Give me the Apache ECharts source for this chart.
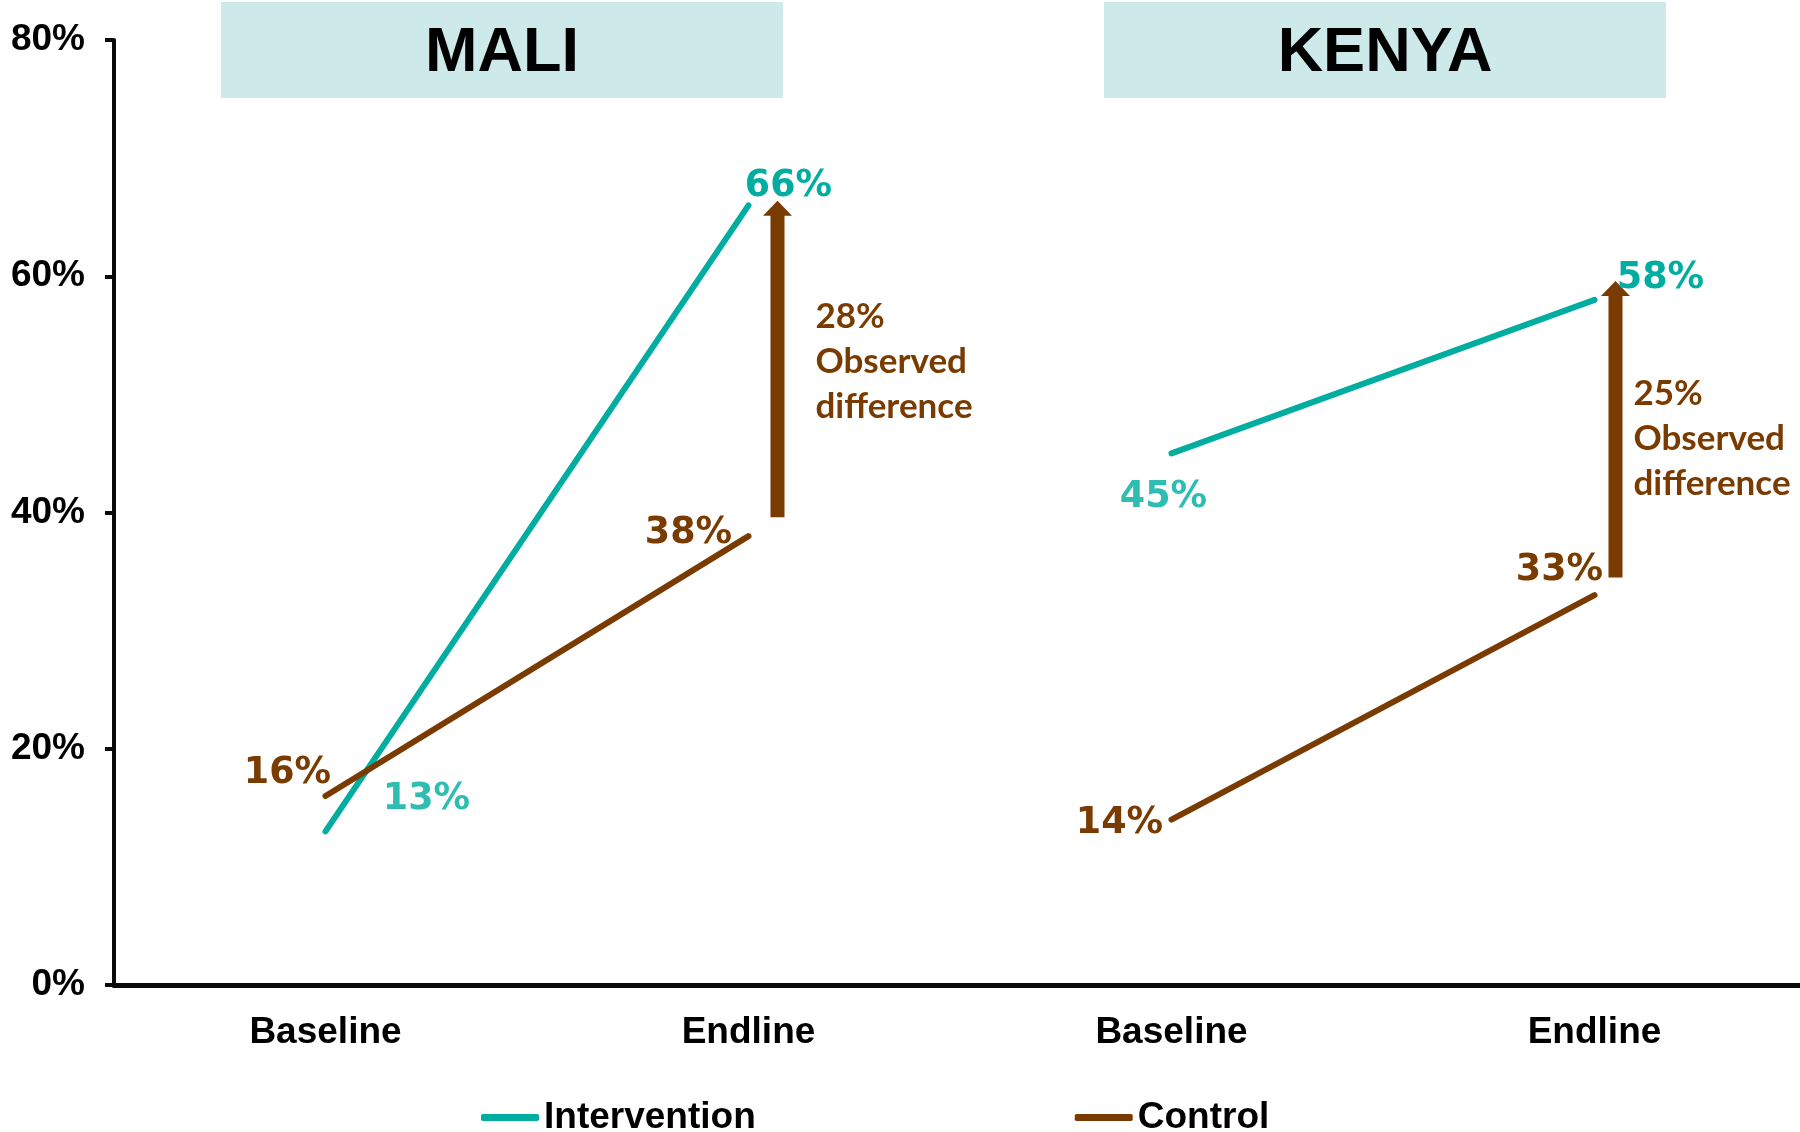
<!DOCTYPE html>
<html><head><meta charset="utf-8">
<script src="https://cdn.jsdelivr.net/npm/echarts@6/dist/echarts.min.js"></script>
<style>html,body{margin:0;padding:0;background:#fff}#c{width:1800px;height:1132px}</style>
</head><body><div id="c"></div>
<script>
// ---- data ----
const categories = ['Baseline', 'Endline', 'Baseline', 'Endline'];
const countries = ['MALI', 'KENYA'];
const maliIntervention = [13, 66];
const maliControl = [16, 38];
const kenyaIntervention = [45, 58];
const kenyaControl = [14, 33];
const yTickMin = 0, yTickMax = 80, yTickStep = 20;
const arrowCat = [1, 3];
const arrowFrom = [39.6, 34.5];
const arrowTo = [66.4, 59.6];
const diffLabels = ['28%\nObserved\ndifference', '25%\nObserved\ndifference'];

// ---- styling ----
const TEAL = '#00ADA0', TEAL_LIGHT = '#2FBDB2', BROWN = '#7A3B00';
const AX = 'Liberation Sans';
const labelBase = {
  show: true, position: 'inside', fontFamily: 'DejaVu Sans', fontWeight: 'bold', fontSize: 36.5,
  formatter: p => p.value[1] + '%'
};
function pts(vals, startCat, offsets, colors) {
  return vals.map((v, i) => ({
    value: [startCat + i, v],
    label: { offset: offsets[i], color: colors[i] }
  }));
}
function lineSeries(name, color, data) {
  return {
    type: 'line', name, data, symbol: 'circle', symbolSize: 3,
    itemStyle: { color }, lineStyle: { color, width: 6, cap: 'round' },
    label: labelBase, emphasis: { disabled: true }, animation: false
  };
}

const chart = echarts.init(document.getElementById('c'));
chart.setOption({
  animation: false,
  grid: { left: 114, width: 1692, top: 40, bottom: 147, outerBoundsMode: 'none', containLabel: false },
  xAxis: {
    type: 'category', data: categories, boundaryGap: true,
    axisLine: { lineStyle: { color: '#0a0a0a', width: 5 } },
    axisTick: { show: false },
    axisLabel: { color: '#000', fontFamily: AX, fontWeight: 'bold', fontSize: 37, margin: 29 }
  },
  yAxis: {
    type: 'value', min: yTickMin, max: yTickMax, interval: yTickStep,
    splitLine: { show: false },
    axisLine: { show: true, lineStyle: { color: '#0a0a0a', width: 4 } },
    axisTick: { show: true, length: 9, lineStyle: { color: '#0a0a0a', width: 4 } },
    axisLabel: { color: '#000', fontFamily: AX, fontWeight: 'bold', fontSize: 37, margin: 29, formatter: '{value}%' }
  },
  legend: {
    data: ['Intervention', 'Control'], icon: 'roundRect', itemWidth: 58, itemHeight: 7,
    itemGap: 319, left: 476, top: 1094, selectedMode: false,
    textStyle: { color: '#000', fontFamily: AX, fontWeight: 'bold', fontSize: 37 }
  },
  graphic: [
    { type: 'rect', shape: { x: 221, y: 2, width: 562, height: 96 }, style: { fill: '#CDE9E9' } },
    { type: 'text', x: 502, y: 54, style: { text: countries[0], fill: '#000', font: 'bold 63px "Liberation Sans"', align: 'center', verticalAlign: 'middle' } },
    { type: 'rect', shape: { x: 1104, y: 2, width: 562, height: 96 }, style: { fill: '#CDE9E9' } },
    { type: 'text', x: 1385, y: 54, style: { text: countries[1], fill: '#000', font: 'bold 63px "Liberation Sans"', align: 'center', verticalAlign: 'middle' } }
  ],
  series: [
    lineSeries('Intervention', TEAL, pts(maliIntervention, 0, [[101, -32], [40, -19]], [TEAL_LIGHT, TEAL])),
    lineSeries('Control', BROWN, pts(maliControl, 0, [[-38, -22], [-60, -3]], [BROWN, BROWN])),
    lineSeries('Intervention', TEAL, pts(kenyaIntervention, 2, [[-8, 44], [66, -21]], [TEAL_LIGHT, TEAL])),
    lineSeries('Control', BROWN, pts(kenyaControl, 2, [[-52, 4], [-35, -25]], [BROWN, BROWN])),
    {
      type: 'custom', name: 'diff', silent: true,
      data: arrowCat.map((c, i) => [c, arrowFrom[i], arrowTo[i]]),
      encode: { x: 0, y: [1, 2] },
      renderItem(params, api) {
        const i = params.dataIndex;
        const p0 = api.coord([api.value(0), api.value(1)]);
        const p1 = api.coord([api.value(0), api.value(2)]);
        const cx = p0[0] + (i === 0 ? 29 : 21);
        const sw = 7, hw = 14.5, hl = 15;
        const yb = p0[1], yt = p1[1];
        return {
          type: 'group', children: [
            { type: 'polygon', shape: { points: [[cx - sw, yb], [cx - sw, yt + hl], [cx - hw, yt + hl], [cx, yt], [cx + hw, yt + hl], [cx + sw, yt + hl], [cx + sw, yb]] }, style: { fill: BROWN } },
            { type: 'text', x: cx + (i === 0 ? 38 : 18), y: yt + (i === 0 ? 94 : 90),
              style: { text: diffLabels[i], fill: BROWN, fontFamily: 'Lato', fontWeight: 'bold', fontSize: 35, lineHeight: 45, verticalAlign: 'top', align: 'left' } }
          ]
        };
      }
    }
  ]
});
</script></body></html>
